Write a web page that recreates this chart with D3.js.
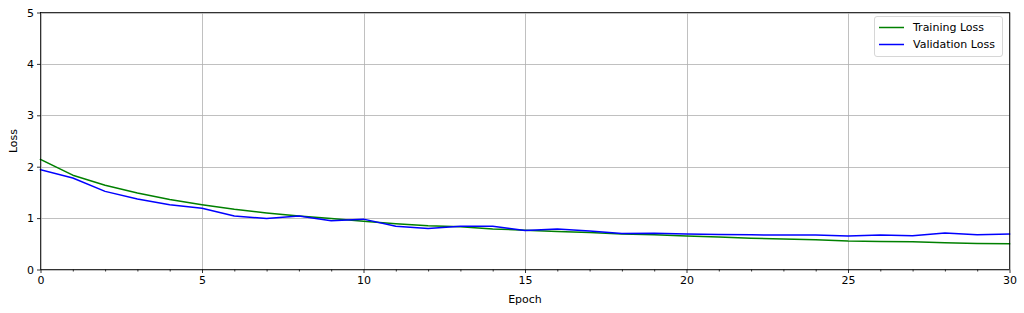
<!DOCTYPE html>
<html><head><meta charset="utf-8">
<script src="https://cdn.jsdelivr.net/npm/d3@7"></script>
<style>body{margin:0;background:#fff}svg{display:block}text{font-family:"DejaVu Sans",sans-serif;fill:#000}</style>
</head><body><svg id="c" width="1024" height="313"></svg>
<script>
const epochs = d3.range(0, 31);
const trainLoss = [2.14,1.835,1.64,1.49,1.36,1.26,1.17,1.10,1.04,0.99,0.94,0.89,0.85,0.83,0.79,0.765,0.74,0.72,0.69,0.675,0.65,0.63,0.61,0.595,0.58,0.555,0.545,0.54,0.52,0.505,0.50];
const valLoss = [1.94,1.78,1.52,1.37,1.26,1.19,1.04,0.99,1.04,0.95,0.98,0.84,0.80,0.84,0.84,0.76,0.79,0.75,0.70,0.705,0.69,0.68,0.675,0.67,0.67,0.65,0.67,0.655,0.71,0.675,0.69];
const xTicks = [0,5,10,15,20,25,30];
const yTicks = [0,1,2,3,4,5];
const seriesNames = ["Training Loss","Validation Loss"];
const seriesColors = ["#008000","#0000ff"];

const svg = d3.select("#c");
const L=40.5, R=1009.5, T=12.5, B=269.5;
const x = d3.scaleLinear().domain([0,30]).range([L,R]);
const y = d3.scaleLinear().domain([0,5]).range([B,T]);

const g = svg.append("g");
// grid
g.selectAll(".gx").data(xTicks).join("line").attr("x1",d=>Math.round(x(d))+0.5).attr("x2",d=>Math.round(x(d))+0.5)
 .attr("y1",T).attr("y2",B).attr("stroke","#b0b0b0").attr("stroke-width",0.8);
g.selectAll(".gy").data(yTicks).join("line").attr("y1",d=>Math.round(y(d))+0.5).attr("y2",d=>Math.round(y(d))+0.5)
 .attr("x1",L).attr("x2",R).attr("stroke","#b0b0b0").attr("stroke-width",0.8);

// lines
const line = d3.line().x((d,i)=>x(epochs[i])).y(d=>y(d));
[trainLoss,valLoss].forEach((s,k)=>{
  g.append("path").datum(s).attr("d",line).attr("fill","none").attr("stroke",seriesColors[k]).attr("stroke-width",1.5).attr("stroke-linejoin","round").attr("stroke-linecap","square");
});

// spines
g.append("rect").attr("x",L).attr("y",T).attr("width",R-L).attr("height",B-T).attr("fill","none").attr("stroke","#000").attr("stroke-width",0.8);

// x axis
const xa = svg.append("g").attr("transform",`translate(0,${B})`)
 .call(d3.axisBottom(x).tickValues(xTicks).tickFormat(d3.format("d")).tickSizeOuter(0).tickSize(3.5));
const xm = svg.append("g").attr("transform",`translate(0,${B})`)
 .call(d3.axisBottom(x).tickValues(epochs.filter(d=>d%5)).tickFormat("").tickSizeOuter(0).tickSize(2));
const ya = svg.append("g").attr("transform",`translate(${L},0)`)
 .call(d3.axisLeft(y).tickValues(yTicks).tickFormat(d3.format("d")).tickSizeOuter(0).tickSize(3.5));
[xa,xm,ya].forEach(a=>{a.select(".domain").remove();a.selectAll("line").attr("stroke","#000").attr("stroke-width",0.8);a.selectAll("text").attr("font-size",11).attr("font-family","DejaVu Sans").attr("fill","#000");});
xa.selectAll("text").attr("dy","0.71em").attr("y",6.5);
ya.selectAll("text").attr("x",-6.5);

svg.append("text").attr("x",(L+R)/2).attr("y",303).attr("text-anchor","middle").attr("font-size",11).text("Epoch");
svg.append("text").attr("transform",`translate(17,${(T+B)/2}) rotate(-90)`).attr("text-anchor","middle").attr("font-size",11).text("Loss");

// legend
const lg = svg.append("g");
lg.append("rect").attr("x",874.5).attr("y",16.5).attr("width",128).attr("height",40).attr("rx",2.5)
 .attr("fill","#fff").attr("fill-opacity",0.8).attr("stroke","#cccccc").attr("stroke-width",0.8);
seriesNames.forEach((n,k)=>{
  const cy = 27.5 + k*17;
  lg.append("line").attr("x1",879).attr("x2",904).attr("y1",cy).attr("y2",cy).attr("stroke",seriesColors[k]).attr("stroke-width",1.5);
  lg.append("text").attr("x",913).attr("y",cy).attr("dy","0.35em").attr("font-size",11).text(n);
});
</script></body></html>
